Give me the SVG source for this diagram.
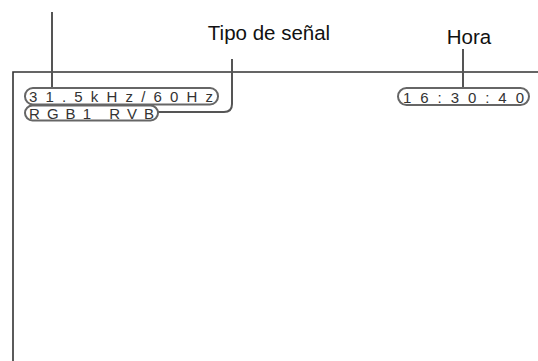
<svg xmlns="http://www.w3.org/2000/svg" width="538" height="361" viewBox="0 0 538 361">
<style>
.lbl{font-family:"Liberation Sans",Arial,sans-serif;font-size:20.5px;fill:#111}
.pt{font-family:"Liberation Sans",Arial,sans-serif;font-size:15px;fill:#333}
.pill{fill:none;stroke:#666;stroke-width:2}
.lead{fill:none;stroke:#555;stroke-width:2}
.frame{fill:none;stroke:#333;stroke-width:1.6}
</style>
<rect width="538" height="361" fill="#fff"/>
<g id="screen"><path class="frame" d="M538 72 H13 V361"/></g>
<g id="connectors">
<path class="lead" d="M52 12 V88"/>
<path class="lead" d="M232 59 V104 Q232 112 224 112 H158"/>
<path class="lead" d="M463 49 V88"/>
</g>
<g id="label-tipo"><text class="lbl" x="269" y="40" text-anchor="middle">Tipo de señal</text></g>
<g id="label-hora"><text class="lbl" x="469" y="44" text-anchor="middle">Hora</text></g>
<g id="freq"><rect class="pill" x="25" y="88" width="193" height="16.5" rx="8"/><text class="pt" x="29" y="102" textLength="184" lengthAdjust="spacing">31.5kHz/60Hz</text></g>
<g id="signal"><rect class="pill" x="25" y="105.5" width="133" height="15" rx="7.5"/><text class="pt" x="29" y="118.5" textLength="125" lengthAdjust="spacing">RGB1 RVB</text></g>
<g id="time"><rect class="pill" x="398" y="88" width="131" height="17" rx="8.5"/><text class="pt" x="403" y="102.5" textLength="121" lengthAdjust="spacing">16:30:40</text></g>
</svg>
